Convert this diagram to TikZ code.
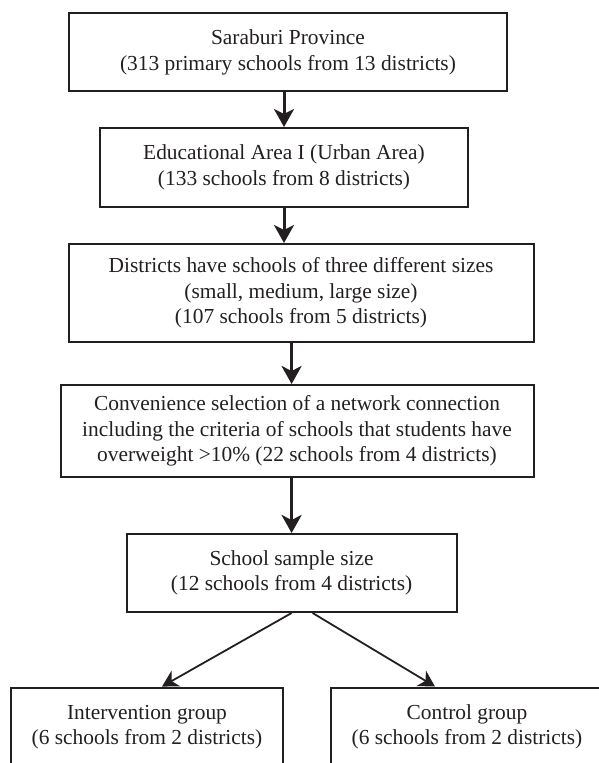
\documentclass[tikz,border=0pt]{standalone}
\usepackage{fontspec}
\setmainfont{Liberation Serif}
\usetikzlibrary{arrows.meta}
\definecolor{inkgray}{HTML}{231F20}
\tikzset{
  stagebox/.style={draw=inkgray, line width=2pt, text=inkgray, align=center, inner sep=0pt,
    font=\fontsize{21.4}{25.5}\selectfont},
  flowarrow/.style={draw=inkgray, line width=3pt, -{Stealth[length=18pt, width=20pt, inset=5pt]}},
  splitarrow/.style={draw=inkgray, line width=1.8pt, -{Stealth[length=16pt, width=18pt, inset=5pt]}}
}
\begin{document}
\begin{tikzpicture}[x=1pt, y=-1pt]
  %%%%% START %%%%%
  \clip (0, 0) rectangle (599, 763);

  \node[stagebox, minimum width=438pt, minimum height=78.5pt] (province) at (288, 52.2)
    {Saraburi Province\\(313 primary schools from 13 districts)};
  \node[stagebox, minimum width=368pt, minimum height=79pt] (urban) at (284, 167.5)
    {Educational Area I (Urban Area)\\(133 schools from 8 districts)};
  \node[stagebox, minimum width=465pt, minimum height=98pt] (sizes) at (301, 293)
    {Districts have schools of three different sizes\\(small, medium, large size)\\(107 schools from 5 districts)};
  \node[stagebox, minimum width=473pt, minimum height=92pt] (network) at (297, 431)
    {Convenience selection of a network connection\\including the criteria of schools that students have\\overweight >10\% (22 schools from 4 districts)};
  \node[stagebox, minimum width=330pt, minimum height=78pt] (sample) at (291.6, 573)
    {School sample size\\(12 schools from 4 districts)};

  \node[stagebox, minimum width=272pt, minimum height=79pt] (intervention) at (147, 727)
    {Intervention group\\(6 schools from 2 districts)};
  \node[stagebox, minimum width=272pt, minimum height=79pt] (control) at (467, 727)
    {Control group\\(6 schools from 2 districts)};

  \draw[flowarrow] (province.south -| urban) -- (urban.north);
  \draw[flowarrow] (urban.south) -- (urban.south |- sizes.north);
  \draw[flowarrow] (sizes.south -| sample) -- (network.north -| sample);
  \draw[flowarrow] (network.south -| sample) -- (sample.north);

  \draw[splitarrow] (sample.south) -- ([xshift=15pt]intervention.north);
  \draw[splitarrow] ([xshift=21pt]sample.south) -- ([xshift=-32pt]control.north);
  %%%%% END %%%%%
\end{tikzpicture}
\end{document}
